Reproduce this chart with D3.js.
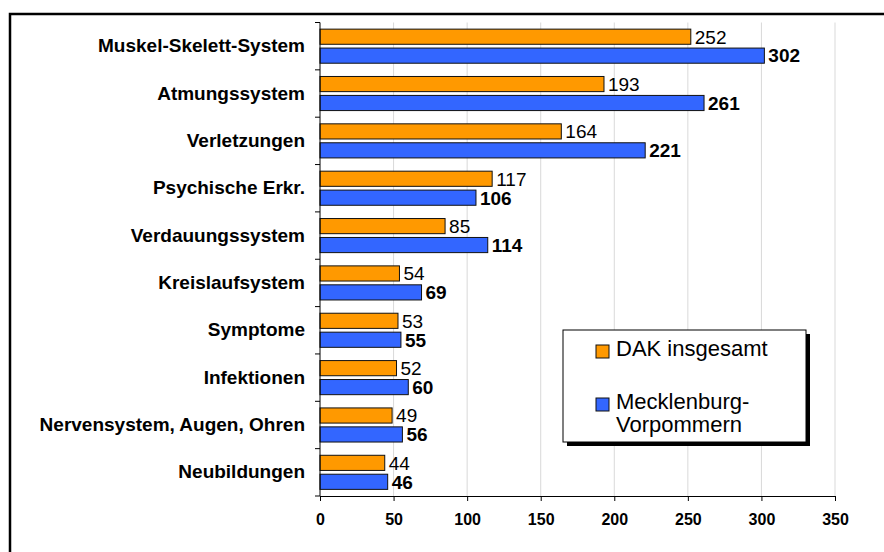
<!DOCTYPE html>
<html>
<head>
<meta charset="utf-8">
<script src="https://cdn.jsdelivr.net/npm/d3@7"></script>
<style>
  body { margin: 0; background: #fff; }
  svg { display: block; font-family: Arial, "Liberation Sans", sans-serif; }
</style>
</head>
<body>
<script>

var categories = [
	'Muskel-Skelett-System',
	'Atmungssystem',
	'Verletzungen',
	'Psychische Erkr.',
	'Verdauungssystem',
	'Kreislaufsystem',
	'Symptome',
	'Infektionen',
	'Nervensystem, Augen, Ohren',
	'Neubildungen'
];
var dakValues = [252, 193, 164, 117, 85, 54, 53, 52, 49, 44];
var mvValues = [302, 261, 221, 106, 114, 69, 55, 60, 56, 46];
var seriesNames = ['DAK insgesamt', 'Mecklenburg-Vorpommern'];
var legendLines = [['DAK insgesamt'], ['Mecklenburg-', 'Vorpommern']];
var xTicks = [0, 50, 100, 150, 200, 250, 300, 350];

(function() {

	var width = 884;
	var height = 552;
	var plotLeft = 320;
	var plotRight = 835;
	var plotTop = 22.5;
	var plotBottom = 496;
	var colors = ['#FF9900', '#3366FF'];

	var svg = d3.select('body')
		.append('svg')
			.attr('width', width)
			.attr('height', height);

	// outer frame, runs off the right and bottom edge
	svg.append('rect')
		.attr('x', 10)
		.attr('y', 14)
		.attr('width', 1000)
		.attr('height', 1000)
		.attr('fill', 'none')
		.attr('stroke', '#000')
		.attr('stroke-width', 2.5);

	var x = d3.scaleLinear()
		.domain([0, 350])
		.range([plotLeft, plotRight]);

	var y = d3.scaleBand()
		.domain(categories)
		.range([plotTop, plotBottom])
		.paddingInner(0.28)
		.paddingOuter(0.14);

	var ySeries = d3.scaleBand()
		.domain(seriesNames)
		.range([0, y.bandwidth()])
		.paddingInner(0.2);

	// grid
	svg.append('g')
		.selectAll('line')
		.data(xTicks.slice(1))
		.join('line')
			.attr('x1', d => x(d))
			.attr('x2', d => x(d))
			.attr('y1', plotTop)
			.attr('y2', plotBottom)
			.attr('stroke', '#d9d9d9')
			.attr('stroke-width', 1);

	var rows = categories.map((c, i) => ({
		category: c,
		values: [dakValues[i], mvValues[i]]
	}));

	var groups = svg.append('g')
		.selectAll('g')
		.data(rows)
		.join('g')
			.attr('transform', d => 'translate(0,' + y(d.category) + ')');

	groups.selectAll('rect')
		.data(d => d.values.map((v, j) => ({ name: seriesNames[j], value: v, j: j })))
		.join('rect')
			.attr('x', x(0))
			.attr('y', d => ySeries(d.name))
			.attr('width', d => x(d.value) - x(0))
			.attr('height', ySeries.bandwidth())
			.attr('fill', d => colors[d.j])
			.attr('stroke', '#111')
			.attr('stroke-width', 1);

	groups.selectAll('text')
		.data(d => d.values.map((v, j) => ({ name: seriesNames[j], value: v, j: j })))
		.join('text')
			.attr('x', d => x(d.value) + 4)
			.attr('y', d => ySeries(d.name) + ySeries.bandwidth() / 2)
			.attr('dy', '0.36em')
			.attr('font-size', 19)
			.attr('font-weight', d => d.j === 1 ? 'bold' : 'normal')
			.attr('fill', '#000')
			.text(d => d.value);

	// x axis
	var xAxis = svg.append('g')
		.attr('transform', 'translate(0,' + plotBottom + ')')
		.call(d3.axisBottom(x).tickValues(xTicks).tickSize(5).tickPadding(13).tickSizeOuter(0));
	xAxis.select('.domain').attr('stroke', '#000');
	xAxis.selectAll('text')
		.attr('font-size', 16)
		.attr('font-weight', 'bold')
		.attr('font-family', 'Arial, "Liberation Sans", sans-serif')
		.attr('fill', '#000');

	// y axis: labels centred on bands, ticks on band boundaries
	var yAxis = svg.append('g')
		.attr('transform', 'translate(' + plotLeft + ',0)')
		.call(d3.axisLeft(y).tickSize(0).tickPadding(15));
	yAxis.select('.domain').remove();
	yAxis.selectAll('text')
		.attr('font-size', 19)
		.attr('font-weight', 'bold')
		.attr('font-family', 'Arial, "Liberation Sans", sans-serif')
		.attr('fill', '#000');

	var boundaries = categories.map(c => y(c) - y.step() * y.paddingInner() / 2);
	boundaries.push(plotBottom);

	svg.append('line')
		.attr('x1', plotLeft)
		.attr('x2', plotLeft)
		.attr('y1', plotTop)
		.attr('y2', plotBottom)
		.attr('stroke', '#000');

	svg.append('g')
		.selectAll('line')
		.data(boundaries)
		.join('line')
			.attr('x1', plotLeft - 5)
			.attr('x2', plotLeft)
			.attr('y1', d => d)
			.attr('y2', d => d)
			.attr('stroke', '#000');

	// legend
	var legend = svg.append('g')
		.attr('transform', 'translate(563,330)');

	legend.append('rect')
		.attr('x', 4)
		.attr('y', 4)
		.attr('width', 243)
		.attr('height', 112)
		.attr('fill', '#000');

	legend.append('rect')
		.attr('x', 0)
		.attr('y', 0)
		.attr('width', 243)
		.attr('height', 112)
		.attr('fill', '#fff')
		.attr('stroke', '#000')
		.attr('stroke-width', 1);

	var entryY = [15, 68];

	seriesNames.forEach((name, i) => {
		legend.append('rect')
			.attr('x', 33)
			.attr('y', entryY[i])
			.attr('width', 13)
			.attr('height', 13)
			.attr('fill', colors[i])
			.attr('stroke', '#111');

		var t = legend.append('text')
			.attr('x', 53)
			.attr('y', entryY[i] + 11)
			.attr('font-size', 22)
			.attr('fill', '#000');
		legendLines[i].forEach((line, k) => {
			t.append('tspan')
				.attr('x', 53)
				.attr('dy', k === 0 ? 0 : 23)
				.text(line);
		});
	});

})();
</script>
</body>
</html>
